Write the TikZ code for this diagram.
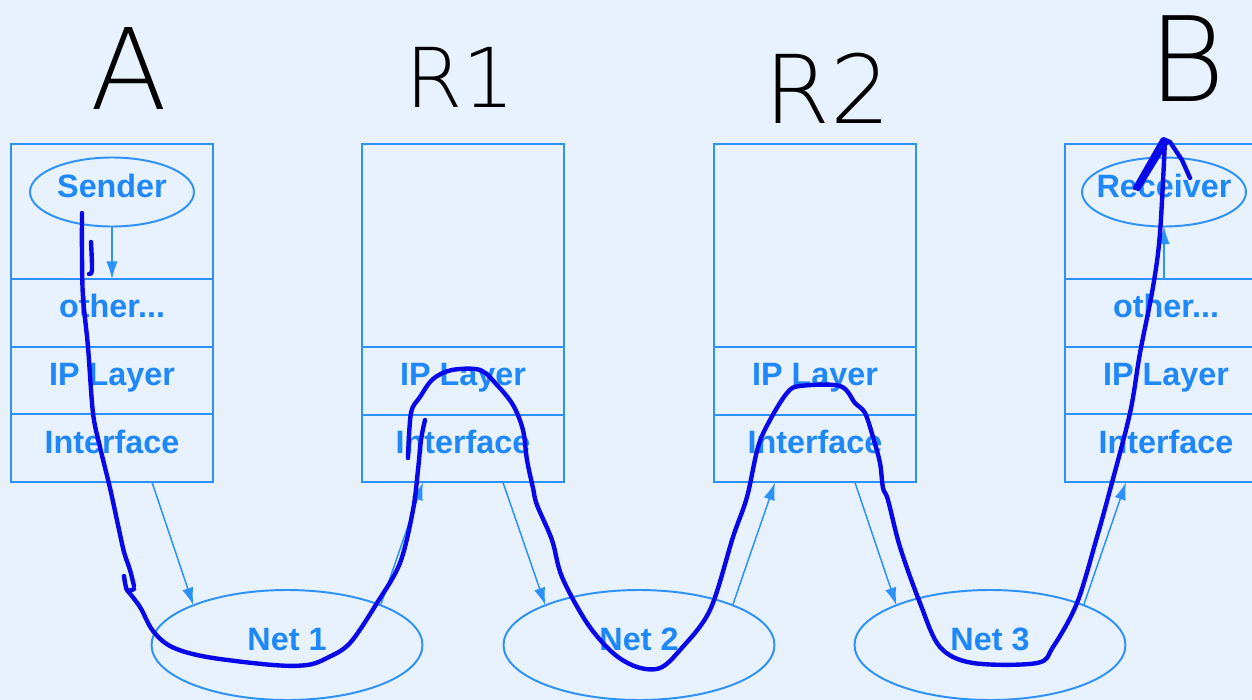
\documentclass[tikz,border=0pt]{standalone}
\usepackage{fontspec}
\setmainfont{Liberation Sans}
\newfontfamily\handfont{DejaVu Sans ExtraLight}
\usetikzlibrary{positioning,shapes.geometric,arrows.meta}
\definecolor{bgblue}{RGB}{232,242,254}
\definecolor{boxblue}{RGB}{45,145,250}
\definecolor{txtblue}{RGB}{30,135,250}
\definecolor{penblue}{RGB}{8,8,232}
\begin{document}
\begin{tikzpicture}[
  x=0.02cm, y=-0.02cm,
  layer/.style={draw=boxblue, line width=1.1pt, outer sep=0pt, inner sep=0pt, minimum width=4.04cm, minimum height=1.355cm, text=txtblue, text height=0.72em, text depth=0.15em, font=\bfseries\fontsize{18.4}{20}\selectfont},
  toplayer/.style={layer, minimum height=2.7cm},
  tallayer/.style={layer, minimum height=4.06cm},
  app/.style={layer, ellipse, inner xsep=-0.5cm, minimum width=3.28cm, minimum height=1.38cm},
  net/.style={layer, ellipse, minimum width=5.42cm, minimum height=2.2cm},
  link/.style={draw=boxblue, line width=0.85pt, -{Latex[length=10pt,width=6.5pt]}},
  pen/.style={draw=penblue, line width=2.5pt, line cap=round, line join=round},
  letter/.style={inner sep=0pt, text=black, font=\handfont\fontsize{#1}{#1}\selectfont}
]
  \fill[bgblue] (0,0) rectangle (1252,700);
  \useasboundingbox (0,0) rectangle (1252,700);

  \node[toplayer] (a0) at (112,211.5) {};
  \node[layer, below=0pt of a0] (a1) {other...};
  \node[layer, below=0pt of a1] (a2) {IP Layer};
  \node[layer, below=0pt of a2] (a3) {Interface};
  \node[app] (snd) at (112,192) {Sender};

  \node[tallayer] (r0) at (463,245.5) {};
  \node[layer, below=0pt of r0] (r2) {IP Layer};
  \node[layer, below=0pt of r2] (r3) {Interface};

  \node[tallayer] (s0) at (815,245.5) {};
  \node[layer, below=0pt of s0] (s2) {IP Layer};
  \node[layer, below=0pt of s2] (s3) {Interface};

  \node[toplayer] (b0) at (1166,211.5) {};
  \node[layer, below=0pt of b0] (b1) {other...};
  \node[layer, below=0pt of b1] (b2) {IP Layer};
  \node[layer, below=0pt of b2] (b3) {Interface};
  \node[app] (rcv) at (1164,192) {Receiver};

  \node[net] (n1) at (287,645) {Net 1};
  \node[net] (n2) at (639,645) {Net 2};
  \node[net] (n3) at (990,645) {Net 3};

  \draw[link] (snd) -- (a1);
  \draw[link] (b1.north-|rcv) -- (rcv);
  \draw[link] ([xshift=2.82cm]a3.south west) -- (n1.157);
  \draw[link] (n1.23) -- ([xshift=1.22cm]r3.south west);
  \draw[link] ([xshift=2.82cm]r3.south west) -- (n2.157);
  \draw[link] (n2.23) -- ([xshift=1.22cm]s3.south west);
  \draw[link] ([xshift=2.82cm]s3.south west) -- (n3.157);
  \draw[link] (n3.23) -- ([xshift=1.22cm]b3.south west);

  \node[letter=64] (la) at (129,69) {A};
  \node[letter=47] (lr1) at (460,77) {R1};
  \node[letter=54] (lr2) at (828,88) {R2};
  \node[letter=67] (lb) at (1187,59) {B};

  \draw[pen] plot[smooth, tension=0.55] coordinates {(82,213) (82,255) (83,297) (88,347) (93,413) (100,447) (110,488) (118,525) (124,552) (130,570) (134,586)};
  \draw[pen] plot[smooth, tension=0.55] coordinates {(124,576) (127,590) (134,589)};
  \draw[pen] plot[smooth, tension=0.55] coordinates {(91,242) (92,270) (89,274)};
  \draw[pen] plot[smooth, tension=0.55] coordinates {(127,590) (140,607) (153,631) (172,647) (207,657) (273,665) (307,665) (327,658) (350,643) (377,603) (400,563) (413,510) (418,470) (421,440) (425,420)};
  \draw[pen] plot[smooth, tension=0.55] coordinates {(408,458) (411,413) (420,397) (433,379) (452,370) (480,370) (497,385) (513,405) (523,430) (527,460) (533,488) (537,505) (552,540) (562,577) (587,623) (613,653) (637,667) (660,668) (680,650) (710,610) (733,537) (747,497) (758,447) (770,420) (787,393) (800,386) (840,386) (855,403) (865,413) (873,437) (880,463) (883,488) (888,500) (900,547) (920,603) (940,647) (973,663) (1037,663) (1053,647) (1077,603) (1097,537) (1110,490) (1130,413) (1140,353) (1153,287) (1160,233) (1165,140)};
  \draw[pen] (1135,188) -- (1163,139) -- (1170,142) -- (1182,160) -- (1190,178);
  \draw[pen] (1138,189) -- (1166,143);
\end{tikzpicture}
\end{document}
